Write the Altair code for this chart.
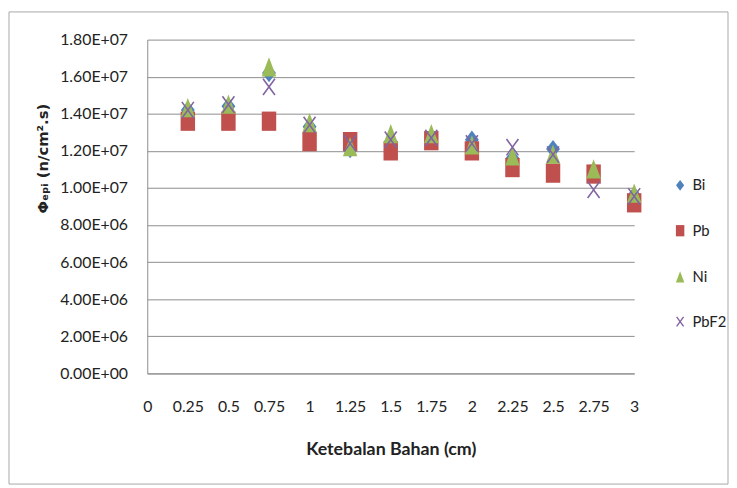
import altair as alt
import pandas as pd

# thickness (cm)
x_vals = [0.25, 0.5, 0.75, 1.0, 1.25, 1.5, 1.75, 2.0, 2.25, 2.5, 2.75, 3.0]
x_ticks = [0, 0.25, 0.5, 0.75, 1, 1.25, 1.5, 1.75, 2, 2.25, 2.5, 2.75, 3]
y_ticks = [0, 2e6, 4e6, 6e6, 8e6, 1e7, 1.2e7, 1.4e7, 1.6e7, 1.8e7]

# epithermal flux (units of 1e7 n/cm2.s)
bi = [1.42, 1.44, 1.62, 1.33, 1.21, 1.25, 1.27, 1.26, 1.16, 1.21, 1.09, 0.96]
pb = [1.36, 1.36, 1.36, 1.25, 1.25, 1.20, 1.255, 1.20, 1.11, 1.08, 1.075, 0.92]
ni = [1.43, 1.45, 1.65, 1.35, 1.22, 1.29, 1.29, 1.23, 1.17, 1.18, 1.10, 0.97]
pbf2 = [1.42, 1.45, 1.545, 1.34, 1.24, 1.26, 1.27, 1.24, 1.22, 1.18, 0.99, 0.955]

series_names = ["Bi", "Pb", "Ni", "PbF2"]
colors = ["#4F81BD", "#C0504D", "#9BBB59", "#8064A2"]

rows = []
for name, vals in zip(series_names, [bi, pb, ni, pbf2]):
    for xv, v in zip(x_vals, vals):
        rows.append({"t": xv, "phi": v * 1e7, "series": name})
df = pd.DataFrame(rows)

shapes = [
    "M0,-0.95L0.72,0L0,0.95L-0.72,0Z",
    "M-0.75,-1H0.75V1H-0.75Z",
    "M0,-1.05L0.75,0.95L-0.75,0.95Z",
    "M-0.62,-0.85L0.62,0.85M0.62,-0.85L-0.62,0.85",
]
fills = colors[:3] + ["transparent"]
strokes = ["transparent", "transparent", "transparent", colors[3]]

FONT = "Lato"

leg = alt.Legend(
    title=None, orient="none", legendX=532, legendY=140, padding=0,
    rowPadding=28, labelFontSize=15, labelFont=FONT, labelColor="#222222",
    symbolSize=130, labelOffset=5, symbolStrokeWidth=1.4,
)

y_label_expr = ("datum.value == 0 ? '0.00E+00' : (datum.value >= 1e7 ? "
                "format(datum.value/1e7, '.2f') + 'E+07' : "
                "format(datum.value/1e6, '.2f') + 'E+06')")

points = alt.Chart(df).mark_point(size=380, strokeWidth=1.6, opacity=1).encode(
    x=alt.X("t:Q", scale=alt.Scale(domain=[0, 3], nice=False),
            axis=alt.Axis(values=x_ticks, labelExpr="format(datum.value, '.3~g')",
                          title="Ketebalan Bahan (cm)",
                          grid=False, ticks=False, labelPadding=26, titlePadding=26,
                          labelFontSize=16, labelFont=FONT, labelColor="#222222",
                          titleFont=FONT, titleFontSize=18, titleFontWeight="bold",
                          titleColor="#222222", domainColor="#8c8c8c",
                          labelFlush=False)),
    y=alt.Y("phi:Q", scale=alt.Scale(domain=[0, 1.8e7], nice=False),
            axis=alt.Axis(values=y_ticks, labelExpr=y_label_expr,
                          title="Φₑₚᵢ (n/cm².s)", ticks=False, labelPadding=20,
                          labelFontSize=16, labelFont=FONT, labelColor="#222222",
                          titleFont="DejaVu Sans", titleFontSize=15, titleFontWeight="bold",
                          titleColor="#222222", titleX=-106, titleY=120,
                          titleAngle=270, titleAlign="center", titleBaseline="middle",
                          gridColor="#8c8c8c", gridWidth=1, domainColor="#8c8c8c")),
    shape=alt.Shape("series:N", scale=alt.Scale(domain=series_names, range=shapes), legend=leg),
    fill=alt.Fill("series:N", scale=alt.Scale(domain=series_names, range=fills), legend=leg),
    stroke=alt.Stroke("series:N", scale=alt.Scale(domain=series_names, range=strokes), legend=leg),
)

border = alt.Chart(pd.DataFrame({"a": [0]})).mark_rect(
    fill="transparent", stroke="#a8a8a8", strokeWidth=1
).encode(
    x=alt.value(-140), x2=alt.value(588), y=alt.value(-28), y2=alt.value(450)
)

chart = alt.layer(border, points).properties(
    width=493, height=338, padding=0, background="white"
).configure_view(stroke=None)

chart.save("out.html", embed_options={"renderer": "svg", "actions": False})
